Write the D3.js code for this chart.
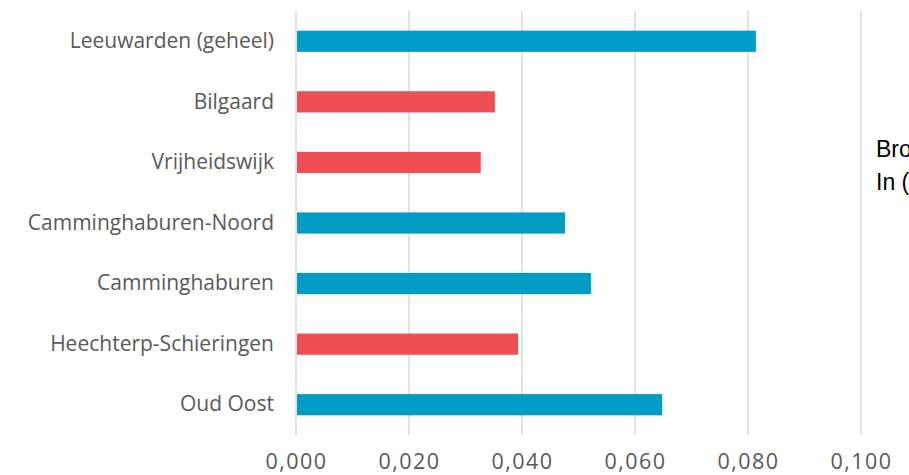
<!DOCTYPE html>
<html>
<head>
<meta charset="utf-8">
<script src="https://cdn.jsdelivr.net/npm/d3@7"></script>
<style>
  body { margin: 0; background: #fff; overflow: hidden; }
  #chart { width: 909px; height: 475px; }
</style>
</head>
<body>
<div id="chart"></div>
<script>
// wijken en waarden
const wijken = [
  "Leeuwarden (geheel)",
  "Bilgaard",
  "Vrijheidswijk",
  "Camminghaburen-Noord",
  "Camminghaburen",
  "Heechterp-Schieringen",
  "Oud Oost"
];
const waarden = [0.0814, 0.0352, 0.0327, 0.0476, 0.0522, 0.0393, 0.0648];
const kleuren = ["blauw", "rood", "rood", "blauw", "blauw", "rood", "blauw"];
const xTicks = [0, 0.02, 0.04, 0.06, 0.08, 0.1];
const bijschrift = ["Bron: CBS", "In (%)"];

const colorMap = { blauw: "#019cc5", rood: "#ef4e55" };

const width = 909, height = 475;
const margin = { top: 11, right: 48, bottom: 40, left: 296 };

const svg = d3.select("#chart")
  .append("svg")
  .attr("width", width)
  .attr("height", height);

const x = d3.scaleLinear()
  .domain([0, 0.1])
  .range([margin.left, width - margin.right]);

const y = d3.scaleBand()
  .domain(wijken)
  .range([margin.top, height - margin.bottom])
  .paddingInner(0.65)
  .paddingOuter(0.325);

const fmt = d => d3.format(".3f")(d).replace(".", ",");

// gridlines
svg.append("g")
  .selectAll("line")
  .data(xTicks)
  .join("line")
  .attr("x1", d => x(d))
  .attr("x2", d => x(d))
  .attr("y1", margin.top)
  .attr("y2", height - margin.bottom)
  .attr("stroke", "#d9d9d9")
  .attr("stroke-width", 1.5);

// bars
svg.append("g")
  .selectAll("rect")
  .data(wijken)
  .join("rect")
  .attr("x", x(0) + 1)
  .attr("y", d => y(d))
  .attr("width", (d, i) => x(waarden[i]) - x(0) - 1)
  .attr("height", y.bandwidth())
  .attr("fill", (d, i) => colorMap[kleuren[i]]);

// category labels
svg.append("g")
  .attr("transform", "translate(" + (margin.left - 22) + ",0)")
  .call(d3.axisLeft(y).tickSize(0).tickPadding(0))
  .call(g => g.select(".domain").remove())
  .selectAll("text")
  .attr("fill", "#595959")
  .style("font-family", "'Open Sans', sans-serif")
  .style("font-size", "21px");

// x axis labels
svg.append("g")
  .attr("transform", "translate(0," + (height - margin.bottom) + ")")
  .call(d3.axisBottom(x).tickValues(xTicks).tickFormat(fmt).tickSize(0).tickPadding(19))
  .call(g => g.select(".domain").remove())
  .selectAll("text")
  .attr("fill", "#595959")
  .style("font-family", "'Open Sans', sans-serif")
  .style("font-size", "21.5px")
  .style("letter-spacing", "1.5px");

// bijschrift rechts
svg.append("g")
  .selectAll("text")
  .data(bijschrift)
  .join("text")
  .attr("x", 876)
  .attr("y", (d, i) => 157 + i * 33)
  .attr("fill", "#000")
  .style("font-family", "'Liberation Sans', Arial, sans-serif")
  .style("font-size", "23px")
  .text(d => d);
</script>
</body>
</html>
